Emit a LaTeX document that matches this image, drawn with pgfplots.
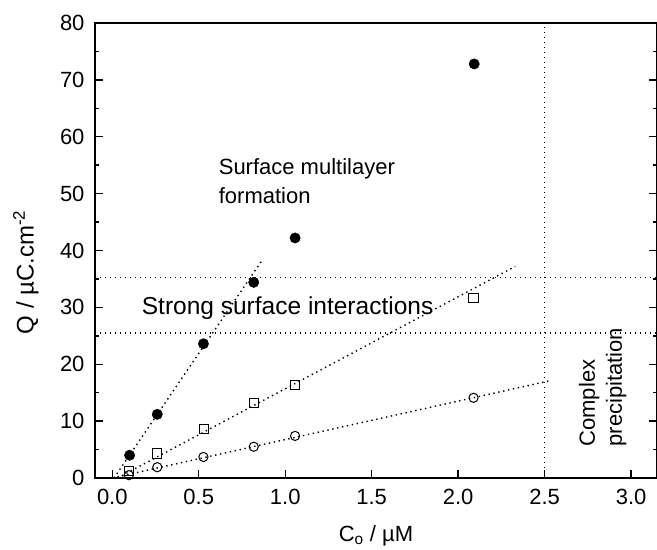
\documentclass[border=0pt]{standalone}
\usepackage{fontspec}
\setmainfont{Liberation Sans}
\usepackage{pgfplots}
\pgfplotsset{compat=1.18}
\begin{document}
\begin{tikzpicture}
\useasboundingbox (0,0) rectangle (657bp,550bp);
\begin{axis}[
  at={(95bp,72bp)}, anchor=south west,
  scale only axis, width=562bp, height=455bp,
  xmin=-0.1, xmax=3.15, ymin=0, ymax=80,
  xtick={0,0.5,1,1.5,2,2.5,3}, ytick={0,10,...,80},
  minor y tick num=1,
  xtick pos=bottom, ytick pos=both, yticklabel pos=left,
  tick align=inside, major tick length=8bp, minor tick length=4bp,
  axis line style={line width=1.6bp},
  every tick/.style={black, line width=1.4bp},
  tick label style={font=\fontsize{22bp}{26bp}\selectfont},
  /pgf/number format/assume math mode=true,
  xticklabel style={/pgf/number format/.cd, fixed, fixed zerofill, precision=1, /tikz/.cd, yshift=-8bp},
  yticklabel style={xshift=-7bp},
  xlabel={C\textsubscript{o} / µM},
  ylabel={Q / µC.cm\textsuperscript{-2}},
  xlabel style={font=\fontsize{22bp}{26bp}\selectfont, at={(axis description cs:0.5,-0.104)}, anchor=north, inner sep=0pt},
  ylabel style={font=\fontsize{24bp}{28bp}\selectfont, at={(axis description cs:-0.123,0.452)}, anchor=center, inner sep=0pt},
  guide/.style={black, line width=1.4bp, dash pattern=on 1.4bp off 3.6bp},
]
% guide lines
\addplot[guide] coordinates {(-0.1,35.2)(3.15,35.2)};
\addplot[guide] coordinates {(-0.1,25.5)(3.15,25.5)};
\addplot[guide] coordinates {(2.5,0)(2.5,80)};
% fit lines
\addplot[guide] coordinates {(0.01,0)(0.86,38.0)};
\addplot[guide] coordinates {(0.03,0)(2.33,37.2)};
\addplot[guide] coordinates {(0.03,0.2)(2.53,17.1)};
% data
\addplot[only marks, mark=*, mark size=5.2bp, black] coordinates {(0.10,4.0)(0.26,11.2)(0.527,23.6)(0.818,34.4)(1.057,42.2)(2.093,72.8)};
\addplot[only marks, mark=square, mark size=4.6bp, black, mark options={line width=1bp, solid}] coordinates {(0.096,1.2)(0.26,4.3)(0.53,8.6)(0.818,13.2)(1.057,16.4)(2.089,31.6)};
\addplot[only marks, mark=o, mark size=4.6bp, black, mark options={line width=1bp, solid}] coordinates {(0.096,0.5)(0.26,1.9)(0.527,3.7)(0.818,5.5)(1.057,7.4)(2.089,14.1)};
% annotations
\node[anchor=base west, inner sep=0pt, font=\fontsize{22bp}{26bp}\selectfont] at (axis cs:0.615,53.45) {Surface multilayer};
\node[anchor=base west, inner sep=0pt, font=\fontsize{22bp}{26bp}\selectfont] at (axis cs:0.615,48.2) {formation};
\node[anchor=base west, inner sep=0pt, font=\fontsize{24.5bp}{28bp}\selectfont] at (axis cs:0.17,28.8) {Strong surface interactions};
\node[anchor=base west, rotate=90, inner sep=0pt, font=\fontsize{22bp}{26bp}\selectfont] at (axis cs:2.79,5.5) {Complex};
\node[anchor=base west, rotate=90, inner sep=0pt, font=\fontsize{22bp}{26bp}\selectfont] at (axis cs:2.947,5.5) {precipitation};
\end{axis}
\end{tikzpicture}
\end{document}
